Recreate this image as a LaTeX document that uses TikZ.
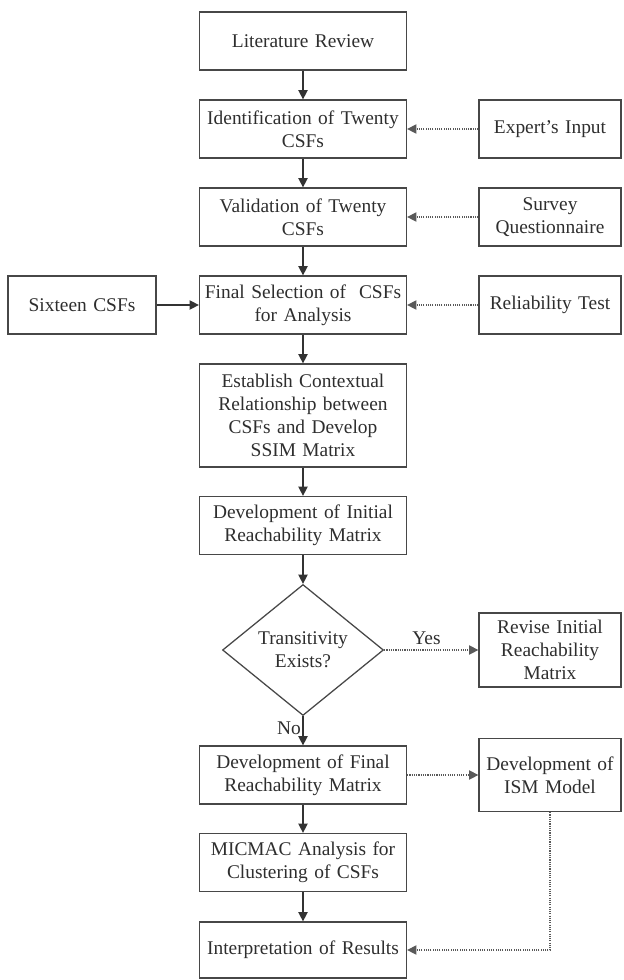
\documentclass[tikz,border=0pt]{standalone}
\usepackage{fontspec}
\setmainfont{Liberation Serif}
\usetikzlibrary{shapes.geometric,arrows.meta}

\begin{document}
\begin{tikzpicture}[
    line cap=butt,
    font=\fontsize{13.8}{16.3}\selectfont,
    box/.style={draw=black!72, line width=0.9pt, text=black!82, align=center,
                inner sep=2pt, minimum height=1.45cm},
    mainbox/.style={box, minimum width=5.175cm, text width=5cm},
    sidebox/.style={box, minimum width=3.55cm, text width=3.4cm},
    decision/.style={diamond, draw=black!72, line width=0.9pt, text=black!82,
                align=center, inner sep=0pt, minimum width=4.025cm, minimum height=3.275cm},
    flow/.style={-{Triangle[length=2.3mm,width=2.3mm]}, line width=1pt, black!80},
    feed/.style={-{Triangle[length=2.3mm,width=2.3mm]}, line width=0.9pt, black!65,
                dash pattern=on 0.8pt off 0.8pt},
  ]
  \useasboundingbox (0,0) rectangle (15.575,-24.5);

  % ---------------- main column ----------------
  \node[mainbox] (lit)      at (7.575,-1.025)   {Literature Review};
  \node[mainbox] (ident)    at (7.575,-3.225)   {Identification of Twenty\\CSFs};
  \node[mainbox] (valid)    at (7.575,-5.425)   {Validation of Twenty\\CSFs};
  \node[mainbox] (select)   at (7.575,-7.625)   {Final Selection of \ CSFs\\for Analysis};
  \node[mainbox, minimum height=2.575cm] (ssim) at (7.575,-10.3875)
    {Establish Contextual\\Relationship between\\CSFs and Develop\\SSIM Matrix};
  \node[mainbox] (initrm)   at (7.575,-13.1375) {Development of Initial\\Reachability Matrix};
  \node[decision] (trans)   at (7.575,-16.25)   {Transitivity\\Exists?};
  \node[mainbox] (finalrm)  at (7.575,-19.375)  {Development of Final\\Reachability Matrix};
  \node[mainbox] (micmac)   at (7.575,-21.5625) {MICMAC Analysis for\\Clustering of CSFs};
  \node[mainbox, minimum height=1.4cm] (interp) at (7.575,-23.75) {Interpretation of Results};

  % ---------------- side boxes ----------------
  \node[sidebox] (expert)   at (13.75,-3.225)   {Expert's Input};
  \node[sidebox] (survey)   at (13.75,-5.425)   {Survey\\Questionnaire};
  \node[sidebox] (reliab)   at (13.75,-7.625)   {Reliability Test};
  \node[sidebox, minimum width=3.7cm, text width=3.5cm] (sixteen) at (2.05,-7.625) {Sixteen CSFs};
  \node[sidebox, minimum height=1.85cm] (revise) at (13.75,-16.25)
    {Revise Initial\\Reachability\\Matrix};
  \node[sidebox, minimum height=1.825cm] (ism) at (13.75,-19.375) {Development of\\ISM Model};

  % ---------------- main flow ----------------
  \draw[flow] (lit) -- (ident);
  \draw[flow] (ident) -- (valid);
  \draw[flow] (valid) -- (select);
  \draw[flow] (select) -- (ssim);
  \draw[flow] (ssim) -- (initrm);
  \draw[flow] (initrm) -- (trans);
  \draw[flow] (trans) -- node[left, text=black!82, pos=0.4, inner sep=1pt] {No} (finalrm);
  \draw[flow] (finalrm) -- (micmac);
  \draw[flow] (micmac) -- (interp);
  \draw[flow] (sixteen) -- (select);

  % ---------------- inputs and feedback ----------------
  \draw[feed] (expert) -- (ident);
  \draw[feed] (survey) -- (valid);
  \draw[feed] (reliab) -- (select);
  \draw[feed] (trans) -- node[above, text=black!82, pos=0.45] {Yes} (revise);
  \draw[feed] (finalrm) -- (ism);
  \draw[feed] (ism.south) |- (interp.east);
\end{tikzpicture}
\end{document}
